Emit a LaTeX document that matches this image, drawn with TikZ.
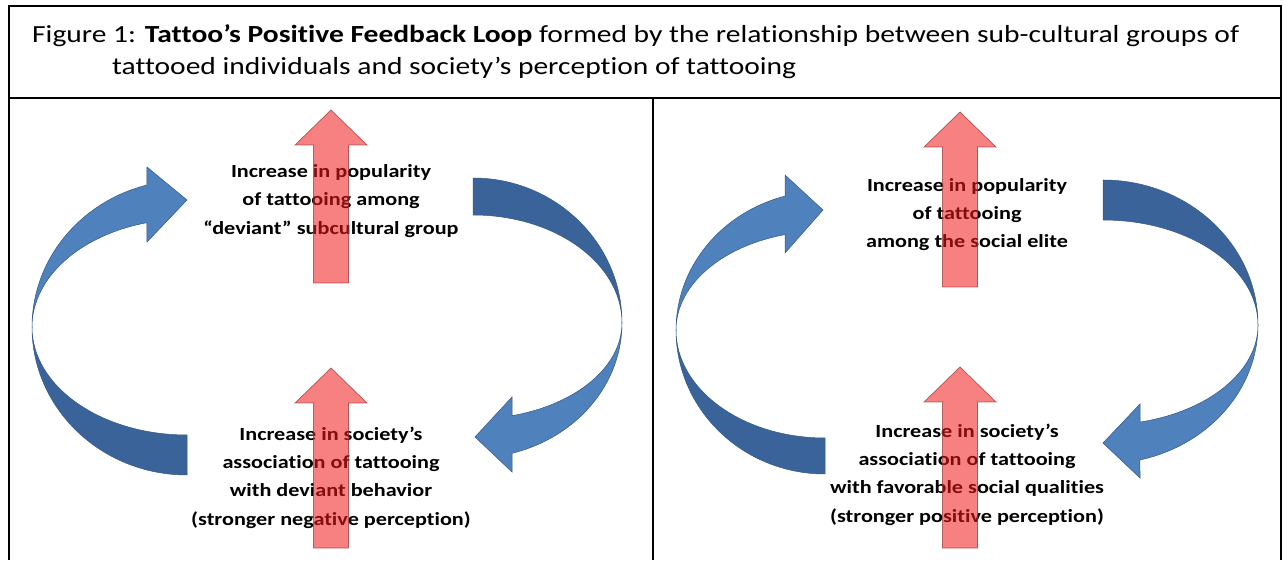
\documentclass[tikz,border=0pt]{standalone}
\usepackage{fontspec}
\setmainfont{Carlito}[FakeStretch=1.2,Ligatures=NoCommon]
\definecolor{LoopBlue}{RGB}{79,129,189}
\definecolor{LoopDark}{RGB}{58,100,153}
\definecolor{LoopEdge}{RGB}{52,88,135}
\definecolor{ArrowRed}{RGB}{242,26,26}
\definecolor{ArrowEdge}{RGB}{150,45,45}

\begin{document}
\begin{tikzpicture}[x=1pt,y=1pt,
    lite/.style={fill=LoopBlue,draw=LoopEdge,line width=0.5pt},
    dark/.style={fill=LoopDark,draw=LoopEdge,line width=0.5pt},
    uparr/.style={fill=ArrowRed,fill opacity=0.55,draw=ArrowEdge,draw opacity=0.7,line width=0.7pt},
    lbl/.style={font=\fontsize{18.5}{28.3}\selectfont\bfseries,align=center,inner sep=0pt},
    captxt/.style={font=\fontsize{24.6}{32}\selectfont,anchor=base west,inner sep=0pt}]
  \fill[white] (0,0) rectangle (1283,560);
  \useasboundingbox (0,0) rectangle (1283,560);
  % frame and caption
  \draw[line width=1.6pt] (9,0) -- (9,554) -- (1281,554) -- (1281,0);
  \draw[line width=1.6pt] (9,462) -- (1281,462) (653,462) -- (653,0);
  \node[captxt] (cap1) at (32,517) {Figure 1: \textbf{Tattoo’s Positive Feedback Loop} formed by the relationship between sub-cultural groups of};
  \node[captxt] (cap2) at (112,485) {tattooed individuals and society’s perception of tattooing};

  % left loop: curved arrows
  \draw[lite] (32,233) arc[start angle=180,end angle=105,x radius=155,y radius=147]
    -- (147,393) -- (187,360) -- (147,318) -- (146.9,337.3)
    arc[start angle=105,end angle=180,x radius=155,y radius=108] -- cycle;
  \draw[dark] (32,233) arc[start angle=180,end angle=270,x radius=155,y radius=148]
    -- (187,125) arc[start angle=270,end angle=180,x radius=155,y radius=108] -- cycle;
  \draw[dark] (473,382) arc[start angle=90,end angle=0,x radius=149,y radius=145]
    arc[start angle=0,end angle=90,x radius=149,y radius=108] -- cycle;
  \draw[lite] (622,237) arc[start angle=0,end angle=-74.8,x radius=149,y radius=135]
    -- (512,88) -- (475,123) -- (512,163) -- (512,144.3)
    arc[start angle=-74.8,end angle=0,x radius=149,y radius=96] -- cycle;

  % right loop
  \draw[lite] (676,230) arc[start angle=180,end angle=105.57,x radius=149,y radius=139]
    -- (785,385) -- (823,350) -- (785,307) -- (785,325.4)
    arc[start angle=105.57,end angle=180,x radius=149,y radius=99] -- cycle;
  \draw[dark] (676,230) arc[start angle=180,end angle=270,x radius=149,y radius=144]
    -- (825,122) arc[start angle=270,end angle=180,x radius=149,y radius=108] -- cycle;
  \draw[dark] (1103,380) arc[start angle=90,end angle=0,x radius=155,y radius=145]
    arc[start angle=0,end angle=90,x radius=155,y radius=105] -- cycle;
  \draw[lite] (1258,235) arc[start angle=0,end angle=-76.2,x radius=155,y radius=139]
    -- (1140,82) -- (1103,117) -- (1140,156) -- (1140,137.9)
    arc[start angle=-76.2,end angle=0,x radius=155,y radius=100] -- cycle;

  % stage labels
  \node[lbl] (popL) at (331,359) {Increase in popularity\\ of tattooing among\\ “deviant” subcultural group};
  \node[lbl] (assocL) at (331,82.5) {Increase in society’s\\ association of tattooing\\ with deviant behavior\\ (stronger negative perception)};
  \node[lbl] (popR) at (967,345.5) {Increase in popularity\\ of tattooing\\ among the social elite};
  \node[lbl] (assocR) at (967,85.5) {Increase in society’s\\ association of tattooing\\ with favorable social qualities\\ (stronger positive perception)};

  % red block arrows over the labels
  \foreach \cx/\ty/\by in {331/450/277, 331/192/12, 960/448/273, 960/193/12}
    \draw[uparr] (\cx,\ty) -- (\cx+36,\ty-35) -- (\cx+17.5,\ty-35) -- (\cx+17.5,\by)
      -- (\cx-17.5,\by) -- (\cx-17.5,\ty-35) -- (\cx-36,\ty-35) -- cycle;
\end{tikzpicture}
\end{document}
